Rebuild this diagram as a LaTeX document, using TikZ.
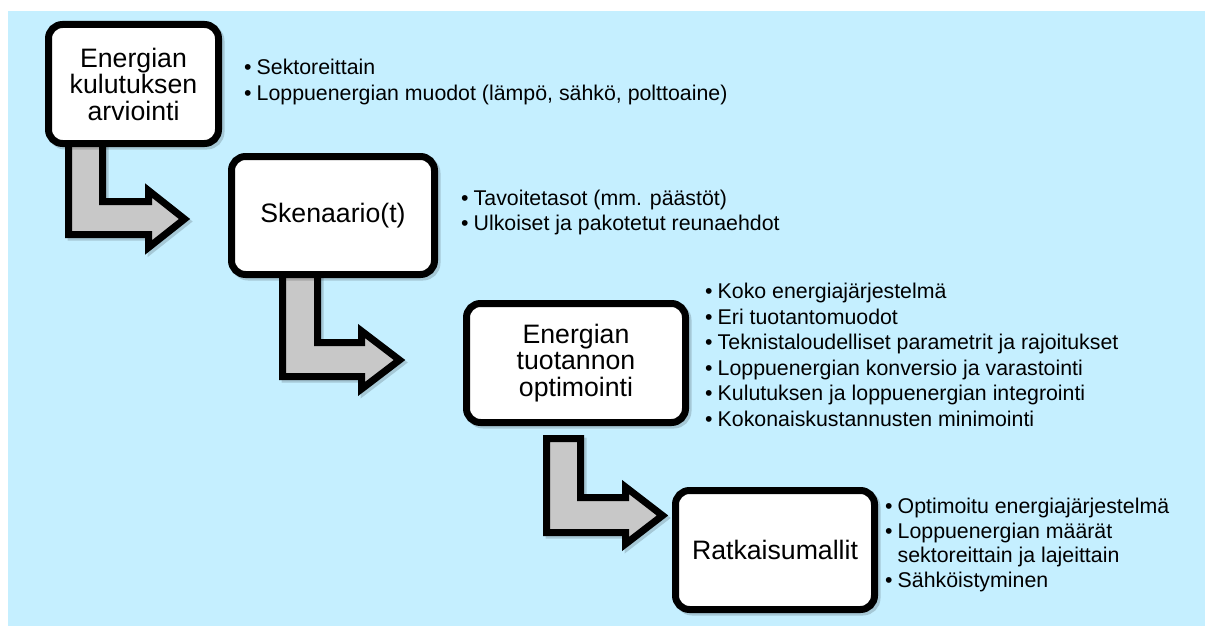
\documentclass[tikz,border=0pt]{standalone}
\usepackage{fontspec}
\setmainfont{Liberation Sans}
\definecolor{bgblue}{HTML}{C5EFFF}
\definecolor{arrowgray}{HTML}{C8C8C8}
\newcommand\boxfont{\fontsize{26.67}{26.5}\selectfont}
\newcommand\bulfont{\fontsize{21.33}{25.6}\selectfont}
\newcommand\blt[1]{\makebox[12.5pt][l]{•}#1}
\newcommand\arrowA{(68.5,138) -- (68.5,234.5) -- (148.5,234.5) -- (148.5,247.5) -- (184.5,219) -- (148.5,190.5) -- (148.5,201.5) -- (102.5,201.5) -- (102.5,138) -- cycle}
\newcommand\arrowB{(282.5,268) -- (282.5,376.5) -- (361.5,376.5) -- (361.5,389) -- (399.5,360) -- (361.5,331) -- (361.5,342.5) -- (317.5,342.5) -- (317.5,268) -- cycle}
\newcommand\arrowC{(546.5,438.5) -- (546.5,532.5) -- (625.5,532.5) -- (625.5,544) -- (662.5,515.5) -- (625.5,487) -- (625.5,497.5) -- (580.5,497.5) -- (580.5,438.5) -- cycle}
\tikzset{
  boxnode/.style={draw=black, line width=7pt, fill=white, rounded corners=14pt,
    inner sep=0pt, align=center, font=\boxfont, text=black},
  boxshade/.style={draw=black, fill=black, line width=7pt, rounded corners=14pt,
    inner sep=0pt, opacity=0.16},
  blockarrow/.style={draw=black, line width=7pt, fill=arrowgray, line join=miter, miter limit=10},
  arrowshade/.style={draw=black, fill=black, line width=7pt, line join=miter, miter limit=10, opacity=0.16},
  bul/.style={anchor=base west, inner sep=0pt, font=\bulfont, text=black},
}
\begin{document}
\begin{tikzpicture}[x=1pt,y=-1pt]
\useasboundingbox (0,0) rectangle (1205,626);
\fill[bgblue] (8,11) rectangle (1205,626);

% block arrows
\draw[arrowshade, shift={(2.5,2.5)}] \arrowA;
\draw[arrowshade, shift={(2.5,2.5)}] \arrowB;
\draw[arrowshade, shift={(2.5,2.5)}] \arrowC;
\draw[blockarrow] \arrowA;
\draw[blockarrow] \arrowB;
\draw[blockarrow] \arrowC;

% box shadows
\node[boxshade, minimum width=170pt, minimum height=119pt] (s1) at (136,86.5) {};
\node[boxshade, minimum width=203pt, minimum height=118pt] (s2) at (335.5,218) {};
\node[boxshade, minimum width=219pt, minimum height=119pt] (s3) at (578.5,365.5) {};
\node[boxshade, minimum width=199pt, minimum height=119pt] (s4) at (777.5,552.5) {};

% boxes
\node[boxnode, minimum width=170pt, minimum height=119pt] (b1) at (133.5,84) {Energian\\kulutuksen\\arviointi};
\node[boxnode, minimum width=203pt, minimum height=118pt] (b2) at (333,215.5) {Skenaario(t)};
\node[boxnode, minimum width=219pt, minimum height=119pt] (b3) at (576,363) {Energian\\tuotannon\\optimointi};
\node[boxnode, minimum width=199pt, minimum height=119pt] (b4) at (775,550) {Ratkaisumallit};

% bullet lists
\node[bul] (l1a) at (244,74.5) {\blt{Sektoreittain}};
\node[bul] (l1b) at (244,100) {\blt{Loppuenergian muodot (lämpö, sähkö, polttoaine)}};

\node[bul] (l2a) at (461,205) {\blt{Tavoitetasot (mm. päästöt)}};
\node[bul] (l2b) at (461,230.5) {\blt{Ulkoiset ja pakotetut reunaehdot}};

\node[bul] (l3a) at (705,298.5) {\blt{Koko energiajärjestelmä}};
\node[bul] (l3b) at (705,324.1) {\blt{Eri tuotantomuodot}};
\node[bul] (l3c) at (705,349.7) {\blt{Teknistaloudelliset parametrit ja rajoitukset}};
\node[bul] (l3d) at (705,375.3) {\blt{Loppuenergian konversio ja varastointi}};
\node[bul] (l3e) at (705,400.9) {\blt{Kulutuksen ja loppuenergian integrointi}};
\node[bul] (l3f) at (705,426.5) {\blt{Kokonaiskustannusten minimointi}};

\node[bul] (l4a) at (885,513.5) {\blt{Optimoitu energiajärjestelmä}};
\node[bul] (l4b) at (885,538.5) {\blt{Loppuenergian määrät}};
\node[bul] (l4c) at (885,562.5) {\hspace*{12.5pt}sektoreittain ja lajeittain};
\node[bul] (l4d) at (885,587.5) {\blt{Sähköistyminen}};
\end{tikzpicture}
\end{document}
